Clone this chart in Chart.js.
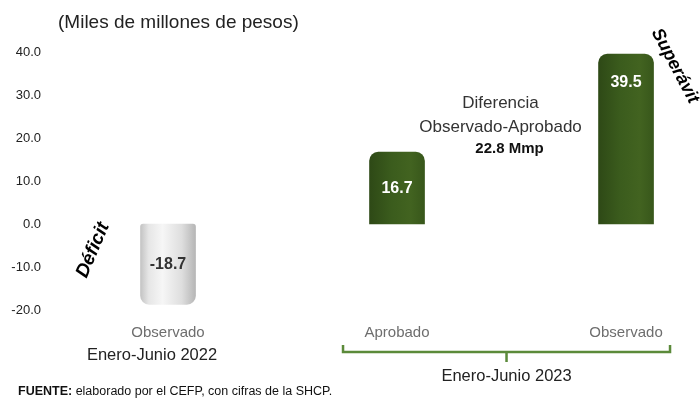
<!DOCTYPE html>
<html>
<head>
<meta charset="utf-8">
<script src="https://cdn.jsdelivr.net/npm/chart.js@4"></script>
<style>
html,body{margin:0;padding:0;background:#fff;}
#wrap{width:700px;height:407px;position:relative;}
</style>
</head>
<body>
<div id="wrap"><canvas id="c" width="700" height="407"></canvas></div>
<script>
const categories = ['Observado', 'Aprobado', 'Observado'];
const periods = ['Enero-Junio 2022', 'Enero-Junio 2023'];
const values = [-18.7, 16.7, 39.5];
const valueLabels = ['-18.7', '16.7', '39.5'];
const yTicks = [40, 30, 20, 10, 0, -10, -20];
const titleText = '(Miles de millones de pesos)';
const diffLines = ['Diferencia', 'Observado-Aprobado', '22.8 Mmp'];
const sourceBold = 'FUENTE:';
const sourceText = ' elaborado por el CEFP, con cifras de la SHCP.';

const F = "'Liberation Sans', Arial, sans-serif";
const BAR_W = 55;

function barFill(c) {
  const chart = c.chart;
  const xs = chart.scales && chart.scales.x;
  const neg = values[c.dataIndex] < 0;
  if (!xs || c.type !== 'data') return neg ? '#dddddd' : '#3a5b1c';
  const cx = xs.getPixelForValue(c.dataIndex);
  if (!isFinite(cx)) return neg ? '#dddddd' : '#3a5b1c';
  const g = chart.ctx.createLinearGradient(cx - BAR_W / 2, 0, cx + BAR_W / 2, 0);
  if (neg) {
    g.addColorStop(0, '#c4c4c4');
    g.addColorStop(0.15, '#e6e6e6');
    g.addColorStop(0.4, '#f6f6f6');
    g.addColorStop(0.75, '#dedede');
    g.addColorStop(1, '#b6b6b6');
  } else {
    g.addColorStop(0, '#2e4916');
    g.addColorStop(0.4, '#3b5c1d');
    g.addColorStop(0.75, '#426320');
    g.addColorStop(1, '#38571b');
  }
  return g;
}

const textPlugin = {
  id: 'texts',
  afterDatasetsDraw(chart) {
    const ctx = chart.ctx;
    const xs = chart.scales.x, ys = chart.scales.y;
    ctx.save();
    values.forEach((v, i) => {
      const a = Math.abs(v);
      const pos = Math.sign(v) * (a > 25 ? a - 6.5 : a / 2);
      const x = xs.getPixelForValue(i);
      const y = ys.getPixelForValue(pos);
      ctx.font = 'bold 16px ' + F;
      ctx.fillStyle = v < 0 ? '#333333' : '#ffffff';
      ctx.textAlign = 'center';
      ctx.textBaseline = 'middle';
      ctx.fillText(valueLabels[i], x, y);
    });
    ctx.restore();
  },
  afterDraw(chart) {
    const ctx = chart.ctx;
    const xs = chart.scales.x;
    const p0 = xs.getPixelForValue(0), p1 = xs.getPixelForValue(1), p2 = xs.getPixelForValue(2);
    ctx.save();
    ctx.textBaseline = 'middle';
    ctx.font = '19px ' + F;
    ctx.fillStyle = '#222';
    ctx.textAlign = 'left';
    ctx.fillText(titleText, 58, 23);
    ctx.textAlign = 'center';
    ctx.font = '15px ' + F;
    ctx.fillStyle = '#6e6e6e';
    ctx.fillText(categories[0], p0, 333);
    ctx.fillText(categories[1], p1, 333);
    ctx.fillText(categories[2], p2, 333);
    ctx.fillStyle = '#222';
    ctx.font = '16.5px ' + F;
    ctx.fillText(periods[0], p0 - 16, 355);
    const left = p1 - 54, right = p2 + 44;
    const mid = (left + right) / 2;
    ctx.fillText(periods[1], mid, 376);
    ctx.strokeStyle = '#5b8a3a';
    ctx.lineWidth = 2.5;
    ctx.beginPath();
    ctx.moveTo(left, 345);
    ctx.lineTo(left, 352);
    ctx.lineTo(right, 352);
    ctx.lineTo(right, 345);
    ctx.moveTo(mid, 352);
    ctx.lineTo(mid, 362);
    ctx.stroke();
    ctx.fillStyle = '#333';
    ctx.font = '17px ' + F;
    ctx.fillText(diffLines[0], mid - 6, 103);
    ctx.fillText(diffLines[1], mid - 6, 127);
    ctx.font = 'bold 15px ' + F;
    ctx.fillStyle = '#111';
    ctx.fillText(diffLines[2], mid + 3, 149);
    ctx.fillStyle = '#000';
    ctx.font = 'italic bold 19px ' + F;
    ctx.save();
    ctx.translate(93, 250);
    ctx.rotate(-67 * Math.PI / 180);
    ctx.fillText('Déficit', 0, 0);
    ctx.restore();
    ctx.font = 'italic bold 18px ' + F;
    ctx.save();
    ctx.translate(675, 66);
    ctx.rotate(62 * Math.PI / 180);
    ctx.fillText('Superávit', 0, 0);
    ctx.restore();
    ctx.textAlign = 'left';
    ctx.font = 'bold 12.5px ' + F;
    ctx.fillStyle = '#111';
    ctx.fillText(sourceBold, 18, 392);
    const w = ctx.measureText(sourceBold).width;
    ctx.font = '12.5px ' + F;
    ctx.fillText(sourceText, 18 + w, 392);
    ctx.restore();
  }
};

new Chart(document.getElementById('c'), {
  type: 'bar',
  data: {
    datasets: [{
      data: values.map((v, i) => ({ x: i, y: v })),
      backgroundColor: barFill,
      borderWidth: 0,
      borderSkipped: false,
      borderRadius: (c) => values[c.dataIndex] < 0
        ? { topLeft: 3, topRight: 3, bottomLeft: 9, bottomRight: 9 }
        : { topLeft: 9, topRight: 9, bottomLeft: 0, bottomRight: 0 },
      barThickness: BAR_W
    }]
  },
  plugins: [textPlugin],
  options: {
    responsive: false,
    animation: false,
    layout: { padding: { top: 52, bottom: 97, left: 0, right: 0 } },
    plugins: { legend: { display: false }, tooltip: { enabled: false } },
    scales: {
      x: {
        type: 'linear',
        display: false,
        offset: false,
        grid: { offset: false },
        min: -0.5328,
        max: 2.323
      },
      y: {
        min: -20,
        max: 40,
        afterFit(s) { s.width = 46; },
        afterBuildTicks(s) { s.ticks = yTicks.map(v => ({ value: v })); },
        grid: { display: false, drawTicks: false },
        border: { display: false },
        ticks: {
          padding: 5,
          color: '#222',
          font: { family: F, size: 13 },
          callback: (v) => Number(v).toFixed(1)
        }
      }
    }
  }
});
</script>
</body>
</html>
